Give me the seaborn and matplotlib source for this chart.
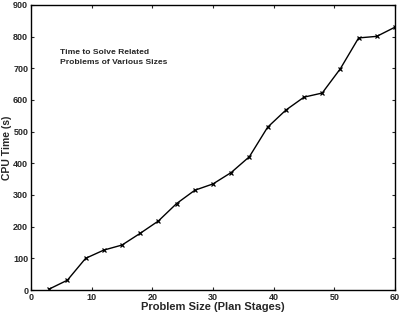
import numpy as np
import pandas as pd
import matplotlib
matplotlib.use("Agg")
import matplotlib.pyplot as plt
import seaborn as sns

# problem size (plan stages) vs CPU time (s)
plan_stages = [3, 6, 9, 12, 15, 18, 21, 24, 27, 30, 33, 36, 39, 42, 45, 48, 51, 54, 57, 60]
cpu_time = [3, 31, 100, 126, 142, 179, 218, 273, 315, 335, 371, 421, 514, 568, 609, 622, 699, 796, 801, 830]

x_ticks = [0, 10, 20, 30, 40, 50, 60]
y_ticks = [0, 100, 200, 300, 400, 500, 600, 700, 800, 900]

df = pd.DataFrame({"stages": plan_stages, "cpu": cpu_time})

sns.set_style("ticks")
plt.rcParams["font.family"] = ["Liberation Sans", "DejaVu Sans"]

fig = plt.figure(figsize=(4.01, 3.15), dpi=100)
ax = fig.add_axes([31 / 401, 1 - 290 / 315, 364 / 401, 285 / 315])

sns.lineplot(data=df, x="stages", y="cpu", ax=ax, color="black", lw=1.0,
             marker="x", markersize=3.5, markeredgewidth=0.9, markeredgecolor="black")

ax.set_xlim(0, 60)
ax.set_ylim(0, 900)
ax.set_xticks(x_ticks)
ax.set_yticks(y_ticks)
ax.tick_params(direction="in", length=2.5, width=0.8, labelsize=6.5,
               top=True, right=True, pad=2)
for lbl in ax.get_xticklabels() + ax.get_yticklabels():
    lbl.set_fontweight("semibold")
for s in ax.spines.values():
    s.set_linewidth(1.0)
    s.set_color("black")

ax.set_xlabel("Problem Size (Plan Stages)", fontsize=8, fontweight="bold", labelpad=0)
ax.set_ylabel("CPU Time (s)", fontsize=7.5, fontweight="bold", labelpad=0.5)

ax.text(4.8, 760, "Time to Solve Related\nProblems of Various Sizes", fontsize=6.1,
        fontweight="bold", va="top", ha="left", linespacing=1.45)

fig.savefig("out.png", dpi=100)
